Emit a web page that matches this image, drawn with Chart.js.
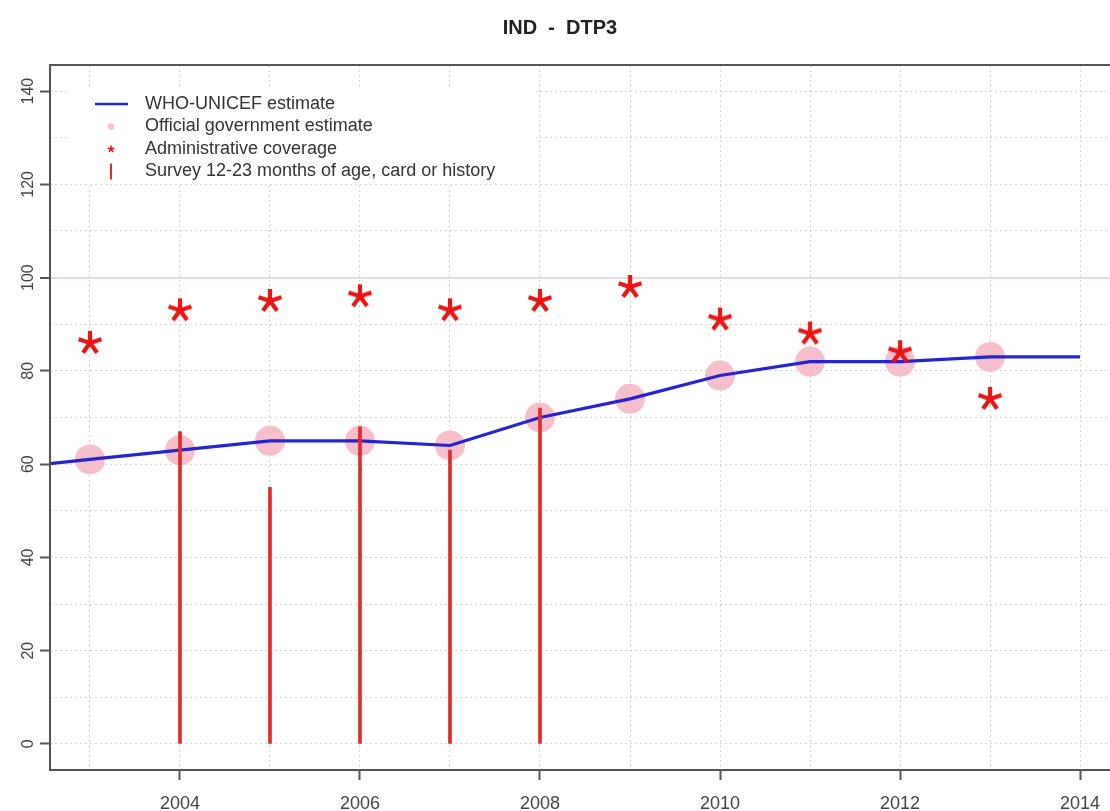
<!DOCTYPE html>
<html>
<head>
<meta charset="utf-8">
<title>IND - DTP3</title>
<script src="https://cdn.jsdelivr.net/npm/chart.js@4.4.1/dist/chart.umd.min.js"></script>
<style>
  html, body { margin: 0; padding: 0; overflow: hidden; background: #ffffff; }
  #wrap { width: 1170px; height: 811px; }
</style>
</head>
<body>
<div id="wrap"><canvas id="chart" width="1170" height="811"></canvas></div>
<script>
// ---- data ----
const chartTitle = 'IND  -  DTP3';

const estimateYears  = [2002, 2003, 2004, 2005, 2006, 2007, 2008, 2009, 2010, 2011, 2012, 2013, 2014];
const estimateValues = [59, 61, 63, 65, 65, 64, 70, 74, 79, 82, 82, 83, 83];

const officialYears  = [2003, 2004, 2005, 2006, 2007, 2008, 2009, 2010, 2011, 2012, 2013];
const officialValues = [61, 63, 65, 65, 64, 70, 74, 79, 82, 82, 83];

const adminYears  = [2003, 2004, 2005, 2006, 2007, 2008, 2009, 2010, 2011, 2012, 2013];
const adminValues = [86, 93, 95, 96, 93, 95, 98, 91, 88, 84, 74];

const surveyYears  = [2004, 2005, 2006, 2007, 2008];
const surveyValues = [67, 55, 68, 63, 72];

const xTickLabels = [2004, 2006, 2008, 2010, 2012, 2014];
const yTickLabels = [0, 20, 40, 60, 80, 100, 120, 140];
const xGridYears  = [2003, 2004, 2005, 2006, 2007, 2008, 2009, 2010, 2011, 2012, 2013, 2014];
const yGridValues = [0, 10, 20, 30, 40, 50, 60, 70, 80, 90, 100, 110, 120, 130, 140];

const legendLabels = [
  'WHO-UNICEF estimate',
  'Official government estimate',
  'Administrative coverage',
  'Survey 12-23 months of age, card or history'
];

// ---- styles ----
const FONT = '"Liberation Sans", Arial, Helvetica, sans-serif';
const BLUE = '#2424d4';
const PINK = '#f7bfcb';
const RED_STAR = '#ee1414';
const RED_BAR = '#e22a2a';
const GRID = '#d4d4d4';
const AXIS = '#555555';

// five-armed asterisk used as a point style
function makeAsterisk(size, arm, width, color) {
  const c = document.createElement('canvas');
  c.width = size; c.height = size;
  const g = c.getContext('2d');
  g.strokeStyle = color;
  g.lineWidth = width;
  g.lineCap = 'butt';
  const m = size / 2;
  for (let k = 0; k < 5; k++) {
    const a = -Math.PI / 2 + k * 2 * Math.PI / 5;
    g.beginPath();
    g.moveTo(m, m);
    g.lineTo(m + arm * Math.cos(a), m + arm * Math.sin(a));
    g.stroke();
  }
  return c;
}
const bigStar = makeAsterisk(30, 12, 4.2, RED_STAR);
const smallStar = makeAsterisk(10, 3.5, 1.6, RED_STAR);

const pts = (xs, ys) => xs.map((x, i) => ({ x: x, y: ys[i] }));

// plot frame (left, top, bottom edges; the right edge lies off screen)
const framePlugin = {
  id: 'frame',
  afterDraw(chart) {
    const { ctx, chartArea: a } = chart;
    ctx.save();
    ctx.strokeStyle = AXIS;
    ctx.lineWidth = 2;
    ctx.strokeRect(a.left, a.top, a.right - a.left, a.bottom - a.top);
    ctx.restore();
  }
};

// legend in the upper-left corner of the plot
const legendPlugin = {
  id: 'cornerLegend',
  afterDraw(chart) {
    const { ctx } = chart;
    const x0 = 95, mx = 111, tx = 145, y0 = 104, dy = 22.5;
    ctx.save();
    ctx.fillStyle = '#ffffff';
    ctx.fillRect(70, 88, 466, 94);

    // line sample
    ctx.strokeStyle = BLUE;
    ctx.lineWidth = 2.5;
    ctx.beginPath();
    ctx.moveTo(x0, y0); ctx.lineTo(x0 + 33, y0);
    ctx.stroke();
    // dot sample
    ctx.fillStyle = PINK;
    ctx.beginPath();
    ctx.arc(mx, y0 + dy, 3.2, 0, Math.PI * 2);
    ctx.fill();
    // asterisk sample
    ctx.drawImage(smallStar, mx - 5, y0 + 2 * dy - 5);
    // bar sample
    ctx.strokeStyle = RED_BAR;
    ctx.lineWidth = 2;
    ctx.beginPath();
    ctx.moveTo(mx, y0 + 3 * dy - 8); ctx.lineTo(mx, y0 + 3 * dy + 8);
    ctx.stroke();

    ctx.fillStyle = '#333333';
    ctx.font = '18px ' + FONT;
    ctx.textAlign = 'left';
    ctx.textBaseline = 'middle';
    legendLabels.forEach((t, i) => ctx.fillText(t, tx, y0 + i * dy));
    ctx.restore();
  }
};

const isVal = (ctx, v) => ctx && ctx.tick && ctx.tick.value === v;

new Chart(document.getElementById('chart'), {
  type: 'scatter',
  data: {
    datasets: [
      {
        type: 'scatter',
        label: legendLabels[2],
        data: pts(adminYears, adminValues),
        pointStyle: bigStar,
        pointRadius: 15,
        pointHoverRadius: 15
      },
      {
        type: 'bar',
        label: legendLabels[3],
        data: pts(surveyYears, surveyValues),
        backgroundColor: RED_BAR,
        borderWidth: 0,
        barThickness: 3
      },
      {
        type: 'line',
        label: legendLabels[0],
        data: pts(estimateYears, estimateValues),
        borderColor: BLUE,
        borderWidth: 3.2,
        pointRadius: 0,
        tension: 0,
        fill: false
      },
      {
        type: 'scatter',
        label: legendLabels[1],
        data: pts(officialYears, officialValues),
        pointStyle: 'circle',
        pointRadius: 15,
        pointHoverRadius: 15,
        backgroundColor: PINK,
        borderWidth: 0
      }
    ]
  },
  options: {
    responsive: false,
    animation: false,
    events: [],
    layout: { padding: { left: 0, right: 50, top: 0, bottom: 0 } },
    plugins: {
      legend: { display: false },
      tooltip: { enabled: false },
      title: {
        display: true,
        text: chartTitle,
        color: '#222222',
        font: { family: FONT, size: 20, weight: 'bold' },
        padding: { top: 16, bottom: 25 }
      }
    },
    scales: {
      x: {
        type: 'linear',
        min: 2002.556,
        max: 2014.444,
        offset: false,
        afterBuildTicks: s => { s.ticks = xGridYears.map(v => ({ value: v })); },
        afterFit: s => { s.height = 41; },
        ticks: {
          autoSkip: false,
          maxRotation: 0,
          padding: 13,
          color: '#444444',
          font: { family: FONT, size: 18 },
          callback: v => xTickLabels.includes(v) ? String(v) : ''
        },
        grid: {
          offset: false,
          color: GRID,
          lineWidth: 1,
          tickLength: 10,
          tickWidth: 2,
          tickColor: ctx => (ctx.tick && xTickLabels.includes(ctx.tick.value)) ? AXIS : 'rgba(0,0,0,0)'
        },
        border: { display: false, dash: [2, 3] }
      },
      y: {
        type: 'linear',
        min: -5.6,
        max: 145.6,
        afterBuildTicks: s => { s.ticks = yGridValues.map(v => ({ value: v })); },
        afterFit: s => { s.width = 50; },
        ticks: {
          autoSkip: false,
          minRotation: 90,
          maxRotation: 90,
          crossAlign: 'center',
          padding: -2,
          color: '#444444',
          font: { family: FONT, size: 16 },
          callback: v => yTickLabels.includes(v) ? String(v) : ''
        },
        grid: {
          color: ctx => isVal(ctx, 100) ? '#e4dcdc' : GRID,
          lineWidth: ctx => isVal(ctx, 100) ? 2 : 1,
          tickLength: 10,
          tickWidth: 2,
          tickColor: ctx => (ctx.tick && yTickLabels.includes(ctx.tick.value)) ? AXIS : 'rgba(0,0,0,0)'
        },
        border: { display: false, dash: ctx => isVal(ctx, 100) ? [] : [2, 3] }
      }
    }
  },
  plugins: [framePlugin, legendPlugin]
});
</script>
</body>
</html>
